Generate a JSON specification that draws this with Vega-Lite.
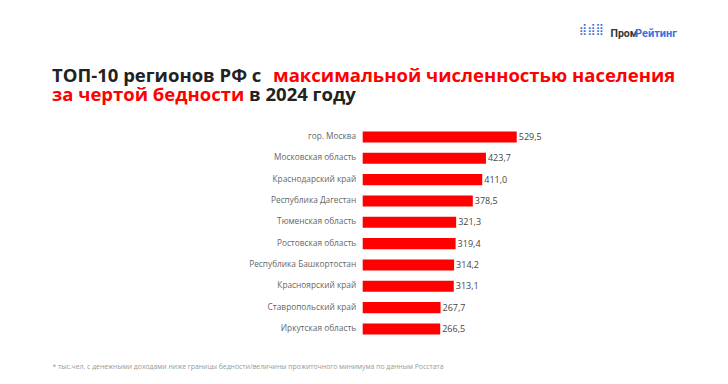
{
  "$schema": "https://vega.github.io/schema/vega-lite/v6.json",
  "autosize": {"type": "none"},
  "width": 160,
  "height": {"step": 21.33},
  "padding": {"left": 362.7, "top": 126.3, "right": 205.3, "bottom": 44.4},
  "background": "white",
  "config": {
    "view": {"stroke": null},
    "locale": {"number": {"decimal": ",", "thousands": " ", "grouping": [3], "currency": ["", ""]}}
  },
  "title": {
    "text": ["ТОП-10 регионов РФ с", "\u200b\u00a0\u00a0\u00a0\u00a0\u00a0\u00a0\u00a0\u00a0\u00a0\u00a0\u00a0\u00a0\u00a0\u00a0\u00a0\u00a0\u00a0\u00a0\u00a0\u00a0\u00a0\u00a0\u00a0\u00a0\u00a0\u00a0\u00a0\u00a0\u00a0\u00a0\u00a0\u00a0\u00a0\u00a0\u00a0\u00a0\u00a0\u00a0\u00a0\u00a0 в 2024 году"],
    "subtitle": ["\u200b\u00a0\u00a0\u00a0\u00a0\u00a0\u00a0\u00a0\u00a0\u00a0\u00a0\u00a0\u00a0\u00a0\u00a0\u00a0\u00a0\u00a0\u00a0\u00a0\u00a0\u00a0\u00a0\u00a0\u00a0\u00a0\u00a0\u00a0\u00a0\u00a0\u00a0\u00a0\u00a0\u00a0\u00a0\u00a0\u00a0\u00a0\u00a0\u00a0\u00a0\u00a0\u00a0\u00a0\u00a0\u00a0\u00a0максимальной численностью населения", "за чертой бедности"],
    "anchor": "start",
    "frame": "group",
    "dx": -310.7,
    "dy": 101,
    "offset": 20,
    "font": "Open Sans",
    "fontSize": 18.5,
    "fontWeight": "bold",
    "color": "#222222",
    "lineHeight": 18.5,
    "subtitleFont": "Open Sans",
    "subtitleFontSize": 18.5,
    "subtitleFontWeight": "bold",
    "subtitleColor": "#ff0000",
    "subtitleLineHeight": 18.5,
    "subtitlePadding": -37
  },
  "data": {
    "values": [
      {"region": "гор. Москва", "value": 529.5},
      {"region": "Московская область", "value": 423.7},
      {"region": "Краснодарский край", "value": 411.0},
      {"region": "Республика Дагестан", "value": 378.5},
      {"region": "Тюменская область", "value": 321.3},
      {"region": "Ростовская область", "value": 319.4},
      {"region": "Республика Башкортостан", "value": 314.2},
      {"region": "Красноярский край", "value": 313.1},
      {"region": "Ставропольский край", "value": 267.7},
      {"region": "Иркутская область", "value": 266.5}
    ]
  },
  "layer": [
    {
      "mark": {"type": "bar", "color": "#ff0000"},
      "encoding": {
        "y": {
          "field": "region", "type": "nominal", "sort": null,
          "scale": {"paddingInner": 0.48, "paddingOuter": 0.24},
          "axis": {
            "orient": "left", "ticks": false, "domain": false, "labelPadding": 7,
            "labelFont": "Open Sans", "labelFontSize": 8.3, "labelColor": "#666666",
            "title": "Пром", "titleAngle": 0, "titleX": 247.3, "titleY": -90, "titleAlign": "left",
            "titleBaseline": "alphabetic", "titleFont": "Roboto", "titleFontSize": 10.5,
            "titleFontWeight": "bold", "titleColor": "#333333"
          }
        },
        "x": {
          "field": "value", "type": "quantitative", "scale": {"domain": [0, 539]},
          "axis": {
            "orient": "bottom", "labels": false, "ticks": false, "domain": false, "grid": false,
            "title": "* тыс.чел. с денежными доходами ниже границы бедности/величины прожиточного минимума по данным Росстата",
            "titleX": -310.7, "titleY": 28.5, "titleAlign": "left", "titleBaseline": "alphabetic",
            "titleFont": "Open Sans", "titleFontSize": 6.85, "titleFontWeight": "normal", "titleColor": "#999999"
          }
        }
      }
    },
    {
      "mark": {"type": "text", "align": "left", "dx": 2, "font": "Open Sans", "fontSize": 9, "color": "#444444"},
      "encoding": {
        "y": {
          "field": "region", "type": "nominal", "sort": null,
          "axis": {
            "orient": "right", "labels": false, "ticks": false, "domain": false,
            "title": "Рейтинг", "titleAngle": 0, "titleX": 111.8, "titleY": -90, "titleAlign": "left",
            "titleBaseline": "alphabetic", "titleFont": "Roboto", "titleFontSize": 11,
            "titleFontWeight": "bold", "titleColor": "#3b6fe0"
          }
        },
        "x": {
          "field": "value", "type": "quantitative",
          "axis": {
            "orient": "top", "labels": false, "ticks": false, "domain": false, "grid": false,
            "title": "⣾⣾⣿", "titleX": 215.3, "titleY": -97.3, "titleAlign": "left", "titleBaseline": "middle",
            "titleFont": "DejaVu Sans", "titleFontSize": 11.5, "titleFontWeight": "normal", "titleColor": "#3b6fe0"
          }
        },
        "text": {"field": "value", "type": "quantitative", "format": ".1f"}
      }
    }
  ],
  "resolve": {"axis": {"x": "independent", "y": "independent"}}
}
